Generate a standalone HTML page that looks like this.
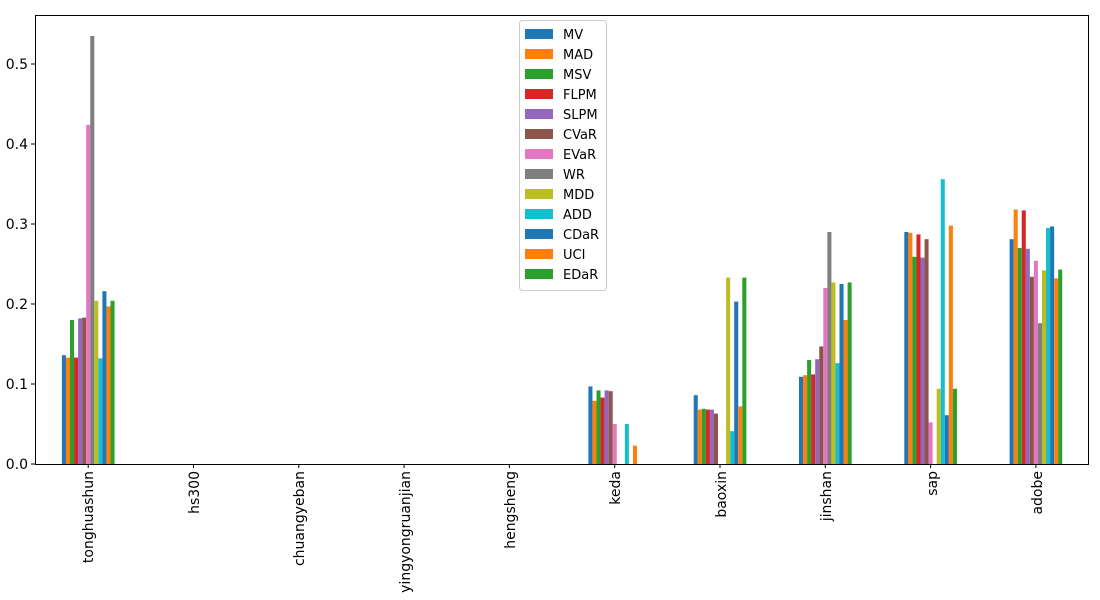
<!DOCTYPE html>
<html><head><meta charset="utf-8"><style>body{margin:0;background:#fff}svg{display:block;font-family:"DejaVu Sans","Liberation Sans",sans-serif}</style></head>
<body>
<svg id="s" width="1100" height="600" xmlns="http://www.w3.org/2000/svg">
<rect width="1100" height="600" fill="#fff"/>
<g id="bars"></g>
<rect x="35.5" y="15.5" width="1053" height="449" fill="none" stroke="#000" stroke-width="1"/>
<g font-size="14" text-anchor="end" fill="#000">
<line x1="31" x2="35" y1="464" y2="464" stroke="#000"/><text x="28" y="469">0.0</text>
<line x1="31" x2="35" y1="384" y2="384" stroke="#000"/><text x="28" y="389">0.1</text>
<line x1="31" x2="35" y1="304" y2="304" stroke="#000"/><text x="28" y="309">0.2</text>
<line x1="31" x2="35" y1="224" y2="224" stroke="#000"/><text x="28" y="229">0.3</text>
<line x1="31" x2="35" y1="144" y2="144" stroke="#000"/><text x="28" y="149">0.4</text>
<line x1="31" x2="35" y1="64" y2="64" stroke="#000"/><text x="28" y="69">0.5</text>
</g>
<g font-size="14" text-anchor="end">
<text transform="translate(93,471) rotate(-90)">tonghuashun</text>
<text transform="translate(199,471) rotate(-90)">hs300</text>
<text transform="translate(304,471) rotate(-90)">chuangyeban</text>
<text transform="translate(410,471) rotate(-90)">yingyongruanjian</text>
<text transform="translate(515,471) rotate(-90)">hengsheng</text>
<text transform="translate(620,471) rotate(-90)">keda</text>
<text transform="translate(726,471) rotate(-90)">baoxin</text>
<text transform="translate(831,471) rotate(-90)">jinshan</text>
<text transform="translate(937,471) rotate(-90)">sap</text>
<text transform="translate(1042,471) rotate(-90)">adobe</text>
</g>
<g id="ticks" stroke="#000"></g>
<rect x="519.5" y="20.5" width="87" height="270" rx="3" fill="#fff" fill-opacity="0.8" stroke="#ccc"/>
<g id="leg"></g>
<g font-size="13">
<text x="563" y="39">MV</text><text x="563" y="59">MAD</text><text x="563" y="79">MSV</text><text x="563" y="99">FLPM</text><text x="563" y="119">SLPM</text><text x="563" y="139">CVaR</text><text x="563" y="159">EVaR</text><text x="563" y="179">WR</text><text x="563" y="199">MDD</text><text x="563" y="219">ADD</text><text x="563" y="239">CDaR</text><text x="563" y="259">UCI</text><text x="563" y="279">EDaR</text>
</g>
</svg>
<script>
var C=["#1f77b4","#ff7f0e","#2ca02c","#d62728","#9467bd","#8c564b","#e377c2","#7f7f7f","#bcbd22","#17becf","#1f77b4","#ff7f0e","#2ca02c"];
var D=[[0.136,0.133,0.18,0.133,0.182,0.183,0.424,0.535,0.204,0.132,0.216,0.197,0.204],
[0,0,0,0,0,0,0,0,0,0,0,0,0],[0,0,0,0,0,0,0,0,0,0,0,0,0],[0,0,0,0,0,0,0,0,0,0,0,0,0],[0,0,0,0,0,0,0,0,0,0,0,0,0],
[0.097,0.079,0.092,0.083,0.092,0.091,0.05,0,0,0.05,0,0.023,0],
[0.086,0.068,0.069,0.068,0.068,0.063,0,0,0.233,0.041,0.203,0.072,0.233],
[0.109,0.111,0.13,0.112,0.131,0.147,0.22,0.29,0.227,0.126,0.225,0.18,0.227],
[0.29,0.289,0.259,0.287,0.258,0.281,0.052,0,0.094,0.356,0.061,0.298,0.094],
[0.281,0.318,0.27,0.317,0.269,0.234,0.254,0.176,0.242,0.295,0.297,0.232,0.243]];
var ns="http://www.w3.org/2000/svg",g=document.getElementById("bars"),t=document.getElementById("ticks"),l=document.getElementById("leg");
function r(p,a){var e=document.createElementNS(ns,a.tag||"rect");delete a.tag;for(var k in a)e.setAttribute(k,a[k]);p.appendChild(e);}
var step=105.3,w=52.65/13;
for(var i=0;i<10;i++){var cx=88.2+i*step;
r(t,{tag:"line",x1:cx,x2:cx,y1:464,y2:468});
for(var j=0;j<13;j++){var h=D[i][j]*800;if(h>0)r(g,{x:cx-26.3+j*w,y:464-h,width:w,height:h,fill:C[j]});}}
for(var j=0;j<13;j++)r(l,{x:525,y:29+j*20,width:28,height:10,fill:C[j]});
</script>
</body></html>
